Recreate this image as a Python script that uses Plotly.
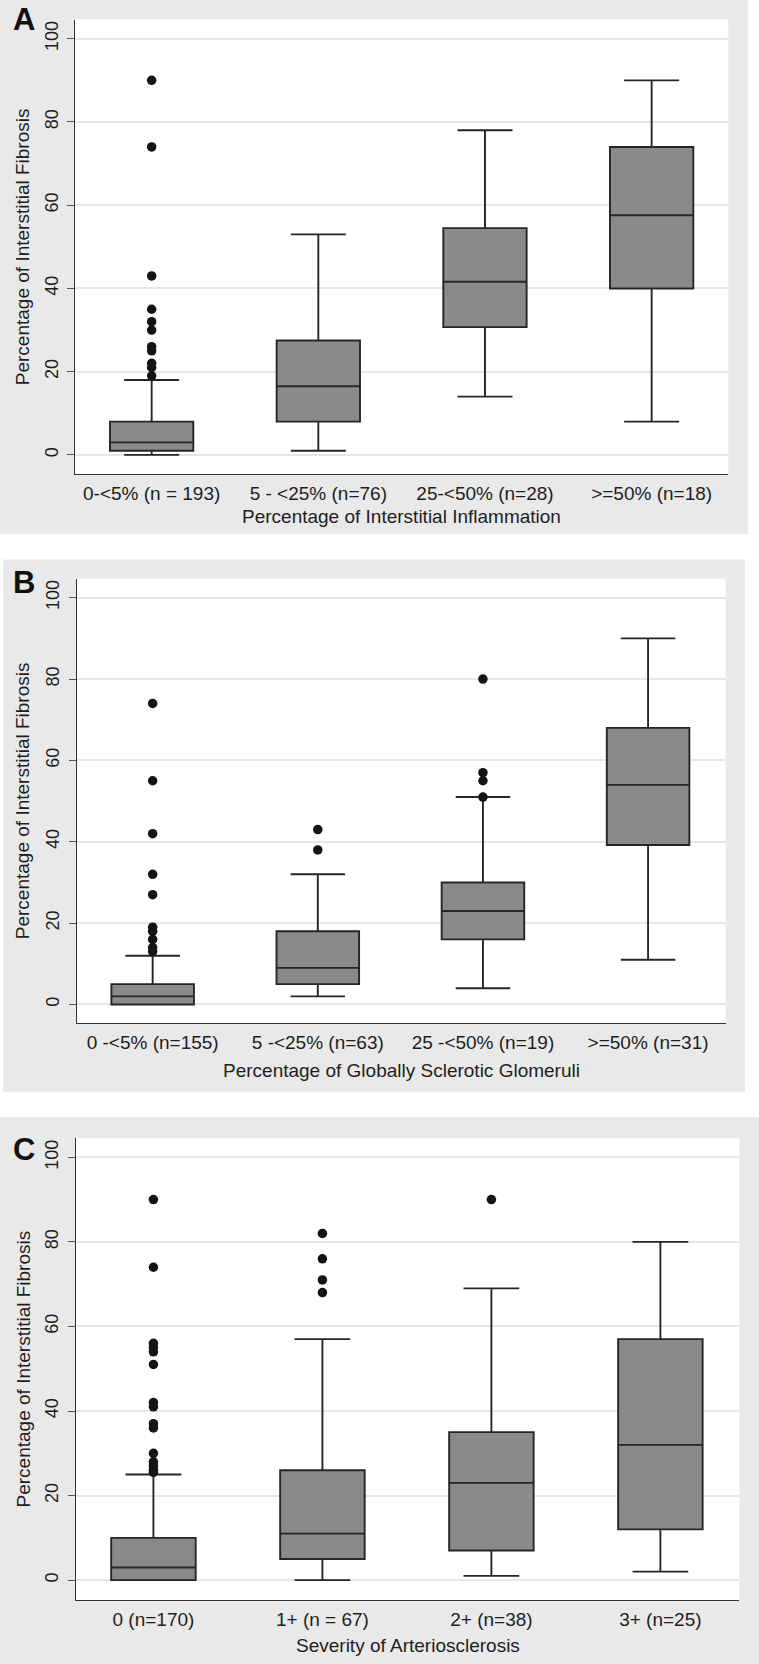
import plotly.graph_objects as go

W, H = 759, 1664

# ---------------- data ----------------
cats_a = ["0-<5% (n = 193)", "5 - <25% (n=76)", "25-<50% (n=28)", ">=50% (n=18)"]
q1_a = [1, 8, 30.7, 40]
med_a = [3, 16.5, 41.6, 57.6]
q3_a = [8, 27.5, 54.5, 74]
lo_a = [0, 1, 14, 8]
hi_a = [18, 53, 78, 90]
out_a_cat = [0] * 11
out_a_val = [90, 74, 43, 35, 32, 30, 26, 25, 22, 21, 19]

cats_b = ["0 -<5% (n=155)", "5 -<25% (n=63)", "25 -<50% (n=19)", ">=50% (n=31)"]
q1_b = [0, 5, 16, 39.2]
med_b = [2, 9, 23, 54]
q3_b = [5, 18, 30, 68]
lo_b = [0, 2, 4, 11]
hi_b = [12, 32, 51, 90]
out_b_cat = [0] * 10 + [1] * 2 + [2] * 4
out_b_val = [74, 55, 42, 32, 27, 19, 18, 16, 14, 13, 43, 38, 80, 57, 55, 51]

cats_c = ["0 (n=170)", "1+ (n = 67)", "2+ (n=38)", "3+ (n=25)"]
q1_c = [0, 5, 7, 12]
med_c = [3, 11, 23, 32]
q3_c = [10, 26, 35, 57]
lo_c = [0, 0, 1, 2]
hi_c = [25, 57, 69, 80]
out_c_cat = [0] * 15 + [1] * 4 + [2]
out_c_val = [90, 74, 56, 55, 54, 51, 42, 41, 37, 36, 30, 28, 27, 26, 25.5,
             82, 76, 71, 68, 90]

ytick_vals = [0, 20, 40, 60, 80, 100]
ytitle = "Percentage of Interstitial Fibrosis"
xtitles = ["Percentage of Interstitial Inflammation",
           "Percentage of Globally Sclerotic Glomeruli",
           "Severity of Arteriosclerosis"]
letters = ["A", "B", "C"]

# ---------------- styling / layout (pixels) ----------------
FONT = "Liberation Sans, Arial, Helvetica, sans-serif"
TXT = "#1e1e1e"
BOXFILL = "#8a8a8a"
BOXLINE = "#262626"
GRAY = "#e9e9e9"
GRID = "#e6e6e6"

panels = [
    dict(bg=(0, 748, 0, 534), plot=(75, 728.3, 19.6, 474.2), xr=[-0.46, 3.46], yr=[-4.64, 104.6],
         letter=(24, 19), xt_y=516.6),
    dict(bg=(3, 745, 559.6, 1091.7), plot=(76.7, 725.7, 578.6, 1023.2), xr=[-0.46, 3.47], yr=[-4.6, 104.7],
         letter=(24, 582), xt_y=1070.4),
    dict(bg=(0, 759, 1117.3, 1664), plot=(75.7, 739.3, 1138.3, 1600), xr=[-0.46, 3.467], yr=[-4.7, 104.5],
         letter=(24, 1149), xt_y=1645),
]

data = [
    (cats_a, q1_a, med_a, q3_a, lo_a, hi_a, out_a_cat, out_a_val),
    (cats_b, q1_b, med_b, q3_b, lo_b, hi_b, out_b_cat, out_b_val),
    (cats_c, q1_c, med_c, q3_c, lo_c, hi_c, out_c_cat, out_c_val),
]


def px(x):
    return x / W


def py(y):
    return 1 - y / H


fig = go.Figure()
shapes = []
annotations = []
layout_axes = {}

for i, (p, d) in enumerate(zip(panels, data)):
    n = "" if i == 0 else str(i + 1)
    xa, ya = "x" + n, "y" + n
    cats, q1, med, q3, lo, hi, oc, ov = d

    fig.add_trace(go.Box(
        x=[0, 1, 2, 3], q1=q1, median=med, q3=q3, lowerfence=lo, upperfence=hi,
        width=0.5, whiskerwidth=0.66, fillcolor=BOXFILL,
        line=dict(color=BOXLINE, width=1.9), boxpoints=False,
        xaxis=xa, yaxis=ya, showlegend=False, hoverinfo="skip",
    ))
    fig.add_trace(go.Scatter(
        x=oc, y=ov, mode="markers",
        marker=dict(color="#141414", size=9.5, line=dict(width=0)),
        xaxis=xa, yaxis=ya, showlegend=False, hoverinfo="skip",
    ))

    bx0, bx1, by0, by1 = p["bg"]
    shapes.append(dict(type="rect", xref="paper", yref="paper", layer="below",
                       x0=px(bx0), x1=px(bx1), y0=py(by1), y1=py(by0),
                       fillcolor=GRAY, line=dict(width=0)))
    lx0, lx1, ly0, ly1 = p["plot"]
    shapes.append(dict(type="rect", xref="paper", yref="paper", layer="below",
                       x0=px(lx0), x1=px(lx1), y0=py(ly1), y1=py(ly0),
                       fillcolor="white", line=dict(width=0)))

    layout_axes["xaxis" + n] = dict(
        domain=[px(lx0), px(lx1)], range=p["xr"], anchor=ya,
        tickmode="array", tickvals=[0, 1, 2, 3], ticktext=cats,
        showline=True, linecolor="#333333", linewidth=1.3, ticks="",
        showgrid=False, zeroline=False, fixedrange=True,
        tickfont=dict(family=FONT, size=19, color=TXT), automargin=False,
        ticklabelstandoff=2,
    )
    layout_axes["yaxis" + n] = dict(
        domain=[py(ly1), py(ly0)], range=p["yr"], anchor=xa,
        tickmode="array", tickvals=ytick_vals, tickangle=-90,
        ticks="outside", ticklen=7, tickwidth=1.2, tickcolor="#555555",
        showline=True, linecolor="#333333", linewidth=1.3,
        showgrid=True, gridcolor=GRID, gridwidth=1.6, zeroline=False,
        fixedrange=True, automargin=False, ticklabelstandoff=2,
        tickfont=dict(family=FONT, size=18, color=TXT),
    )

    annotations.append(dict(text=xtitles[i], xref="paper", yref="paper",
                            x=px((lx0 + lx1) / 2), y=py(p["xt_y"]),
                            xanchor="center", yanchor="middle", showarrow=False,
                            font=dict(family=FONT, size=19, color=TXT)))
    annotations.append(dict(text=ytitle, xref="paper", yref="paper",
                            x=px(23.3), y=py((ly0 + ly1) / 2), textangle=-90,
                            xanchor="center", yanchor="middle", showarrow=False,
                            font=dict(family=FONT, size=19, color=TXT)))
    lxp, lyp = p["letter"]
    annotations.append(dict(text="<b>" + letters[i] + "</b>", xref="paper", yref="paper",
                            x=px(lxp), y=py(lyp), xanchor="center", yanchor="middle",
                            showarrow=False,
                            font=dict(family=FONT, size=31, color="#111111")))

fig.update_layout(
    width=W, height=H,
    margin=dict(l=0, r=0, t=0, b=0, pad=0),
    paper_bgcolor="white", plot_bgcolor="rgba(0,0,0,0)",
    template="none", showlegend=False,
    shapes=shapes, annotations=annotations,
    boxmode="overlay",
    **layout_axes,
)

fig.write_html(
    "out.html",
    config={"displayModeBar": False},
    post_script="document.body.style.margin='0';document.body.style.overflow='hidden';",
)
